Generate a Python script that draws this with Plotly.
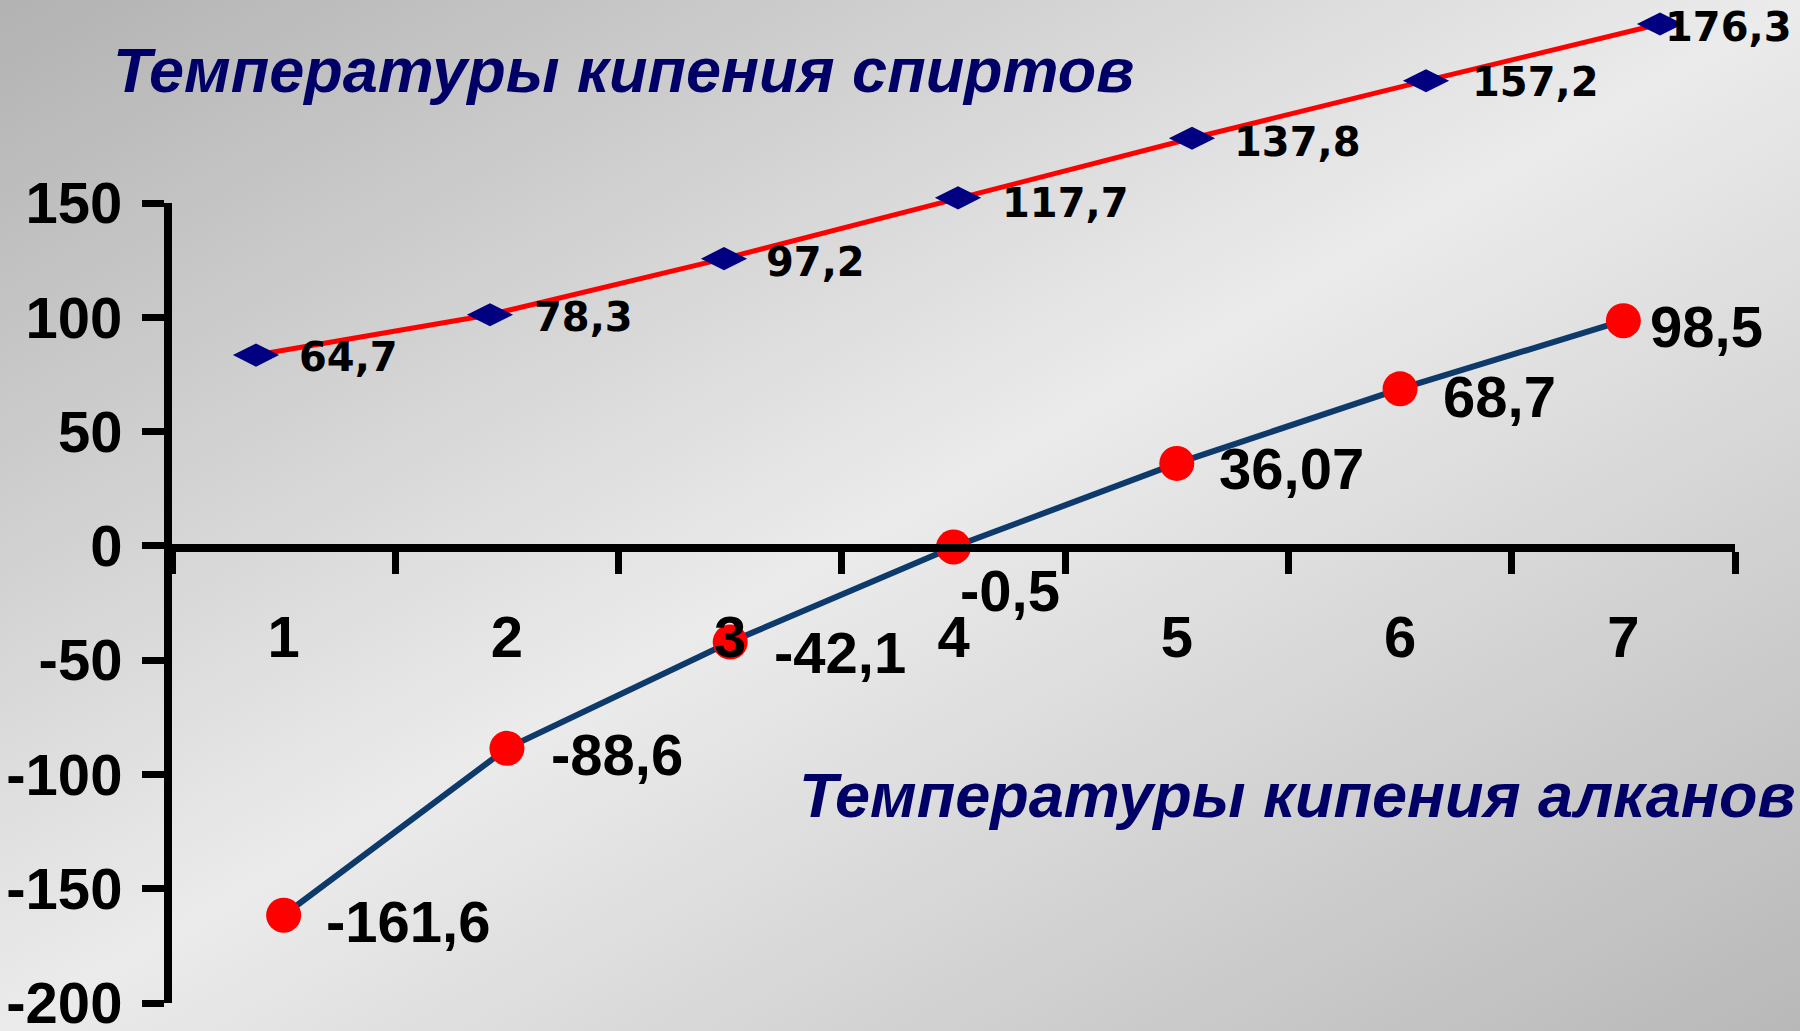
import base64
import plotly.graph_objects as go

# ---------------- data ----------------
categories = ["1", "2", "3", "4", "5", "6", "7"]
alkane_bp = [-161.6, -88.6, -42.1, -0.5, 36.07, 68.7, 98.5]
alkane_labels = ["-161,6", "-88,6", "-42,1", "-0,5", "36,07", "68,7", "98,5"]
alcohol_bp = [64.7, 78.3, 97.2, 117.7, 137.8, 157.2, 176.3]
alcohol_labels = ["64,7", "78,3", "97,2", "117,7", "137,8", "157,2", "176,3"]
y_ticks = [-200, -150, -100, -50, 0, 50, 100, 150]
y_tick_text = ["-200", "-150", "-100", "-50", "0", "50", "100", "150"]
title_alcohols = "Температуры кипения спиртов"
title_alkanes = "Температуры кипения алканов"

# ---------------- styles ----------------
W, H = 1800, 1031
FONT = "Liberation Sans, Arial, sans-serif"
NAVY = "#000066"
alk_shift = [(40, -6), (42, -6), (42, -10), (4, -43), (40, -5), (41, -8), (25, -6)]
alc_shift = [(41, -2), (42, -2), (40, -3), (42, -5), (40, -4), (44, -1), (3, -3)]


def px_x(p):
    return p / W


def px_y(p):
    return 1 - p / H


svg = (
    '<svg xmlns="http://www.w3.org/2000/svg" width="1800" height="1031" '
    'viewBox="0 0 1800 1031" preserveAspectRatio="none">'
    '<defs><linearGradient id="g" x1="0" y1="0" x2="1" y2="1">'
    '<stop offset="0" stop-color="#b2b2b2"/>'
    '<stop offset="0.5" stop-color="#ebebeb"/>'
    '<stop offset="1" stop-color="#b8b8b8"/>'
    '</linearGradient></defs>'
    '<rect x="0" y="0" width="1800" height="1031" fill="url(#g)"/></svg>'
)
bg_uri = "data:image/svg+xml;base64," + base64.b64encode(svg.encode()).decode()

fig = go.Figure()

# alkanes on main axes
fig.add_trace(go.Scatter(
    x=categories, y=alkane_bp, mode="lines+markers",
    line=dict(color="#0d3a6b", width=6),
    marker=dict(color="#ff0000", size=35, line=dict(width=0)),
    xaxis="x", yaxis="y", cliponaxis=False, hoverinfo="skip",
))

# alcohols on the inset axes
fig.add_trace(go.Scatter(
    x=categories, y=alcohol_bp, mode="lines+markers",
    line=dict(color="#ff0000", width=5),
    marker=dict(color="#000080", size=33, symbol="diamond-wide", line=dict(width=0)),
    xaxis="x2", yaxis="y2", cliponaxis=False, hoverinfo="skip",
))

annotations = []
for i, (v, t) in enumerate(zip(alkane_bp, alkane_labels)):
    dx, dy = alk_shift[i]
    annotations.append(dict(
        x=i, y=v, xref="x", yref="y", text=t, showarrow=False,
        xanchor="left", yanchor="middle", xshift=dx, yshift=dy,
        font=dict(family=FONT, size=58, color="black", weight="bold"),
    ))
for i, (v, t) in enumerate(zip(alcohol_bp, alcohol_labels)):
    dx, dy = alc_shift[i]
    annotations.append(dict(
        x=i, y=v, xref="x2", yref="y2", text=t, showarrow=False,
        xanchor="left", yanchor="middle", xshift=dx, yshift=dy,
        font=dict(family="DejaVu Sans, Verdana, sans-serif", size=40, color="black", weight="bold"),
    ))
annotations.append(dict(
    x=px_x(111), y=px_y(70), xref="paper", yref="paper", xanchor="left", yanchor="middle",
    text="<b><i>" + title_alcohols + "</i></b>", showarrow=False,
    font=dict(family=FONT, size=63, color=NAVY),
))
annotations.append(dict(
    x=px_x(797), y=px_y(795), xref="paper", yref="paper", xanchor="left", yanchor="middle",
    text="<b><i>" + title_alkanes + "</i></b>", showarrow=False,
    font=dict(family=FONT, size=63, color=NAVY),
))

tickfont = dict(family=FONT, size=58, color="black", weight="bold")

fig.update_layout(
    template="none",
    width=W, height=H, margin=dict(l=0, r=0, t=0, b=0, pad=0, autoexpand=False),
    paper_bgcolor="#d8d8d8", plot_bgcolor="rgba(0,0,0,0)",
    showlegend=False, hovermode=False,
    images=[dict(source=bg_uri, xref="paper", yref="paper", x=0, y=1, sizex=1, sizey=1,
                 xanchor="left", yanchor="top", sizing="stretch", layer="below")],
    xaxis=dict(
        type="category", categoryorder="array", categoryarray=categories,
        domain=[px_x(172), px_x(1735)], range=[-0.5, 6.5],
        anchor="free", position=px_y(548), automargin=False,
        showline=True, linecolor="black", linewidth=8,
        ticks="outside", tickson="boundaries", ticklen=22, tickwidth=7, tickcolor="black",
        showgrid=False, zeroline=False, tickfont=tickfont, ticklabelstandoff=35,
        ticklabeloverflow="allow",
    ),
    yaxis=dict(
        domain=[px_y(1003), px_y(203)], range=[-200, 150], anchor="x", automargin=False,
        showline=True, linecolor="black", linewidth=8,
        ticks="outside", ticklen=22, tickwidth=7, tickcolor="black",
        tickvals=y_ticks, ticktext=y_tick_text,
        showgrid=False, zeroline=False, tickfont=tickfont, ticklabelstandoff=8,
        ticklabeloverflow="allow",
    ),
    xaxis2=dict(
        type="category", categoryorder="array", categoryarray=categories,
        domain=[px_x(139), px_x(1777)], range=[-0.5, 6.5], anchor="y2",
        visible=False, automargin=False,
    ),
    yaxis2=dict(
        domain=[px_y(547), 1.0], range=[0, 184.4], anchor="x2",
        visible=False, automargin=False,
    ),
    annotations=annotations,
)

fig.write_html(
    "out.html",
    config={"displayModeBar": False, "staticPlot": True},
    post_script="document.body.style.margin='0px';document.body.style.overflow='hidden';",
)
